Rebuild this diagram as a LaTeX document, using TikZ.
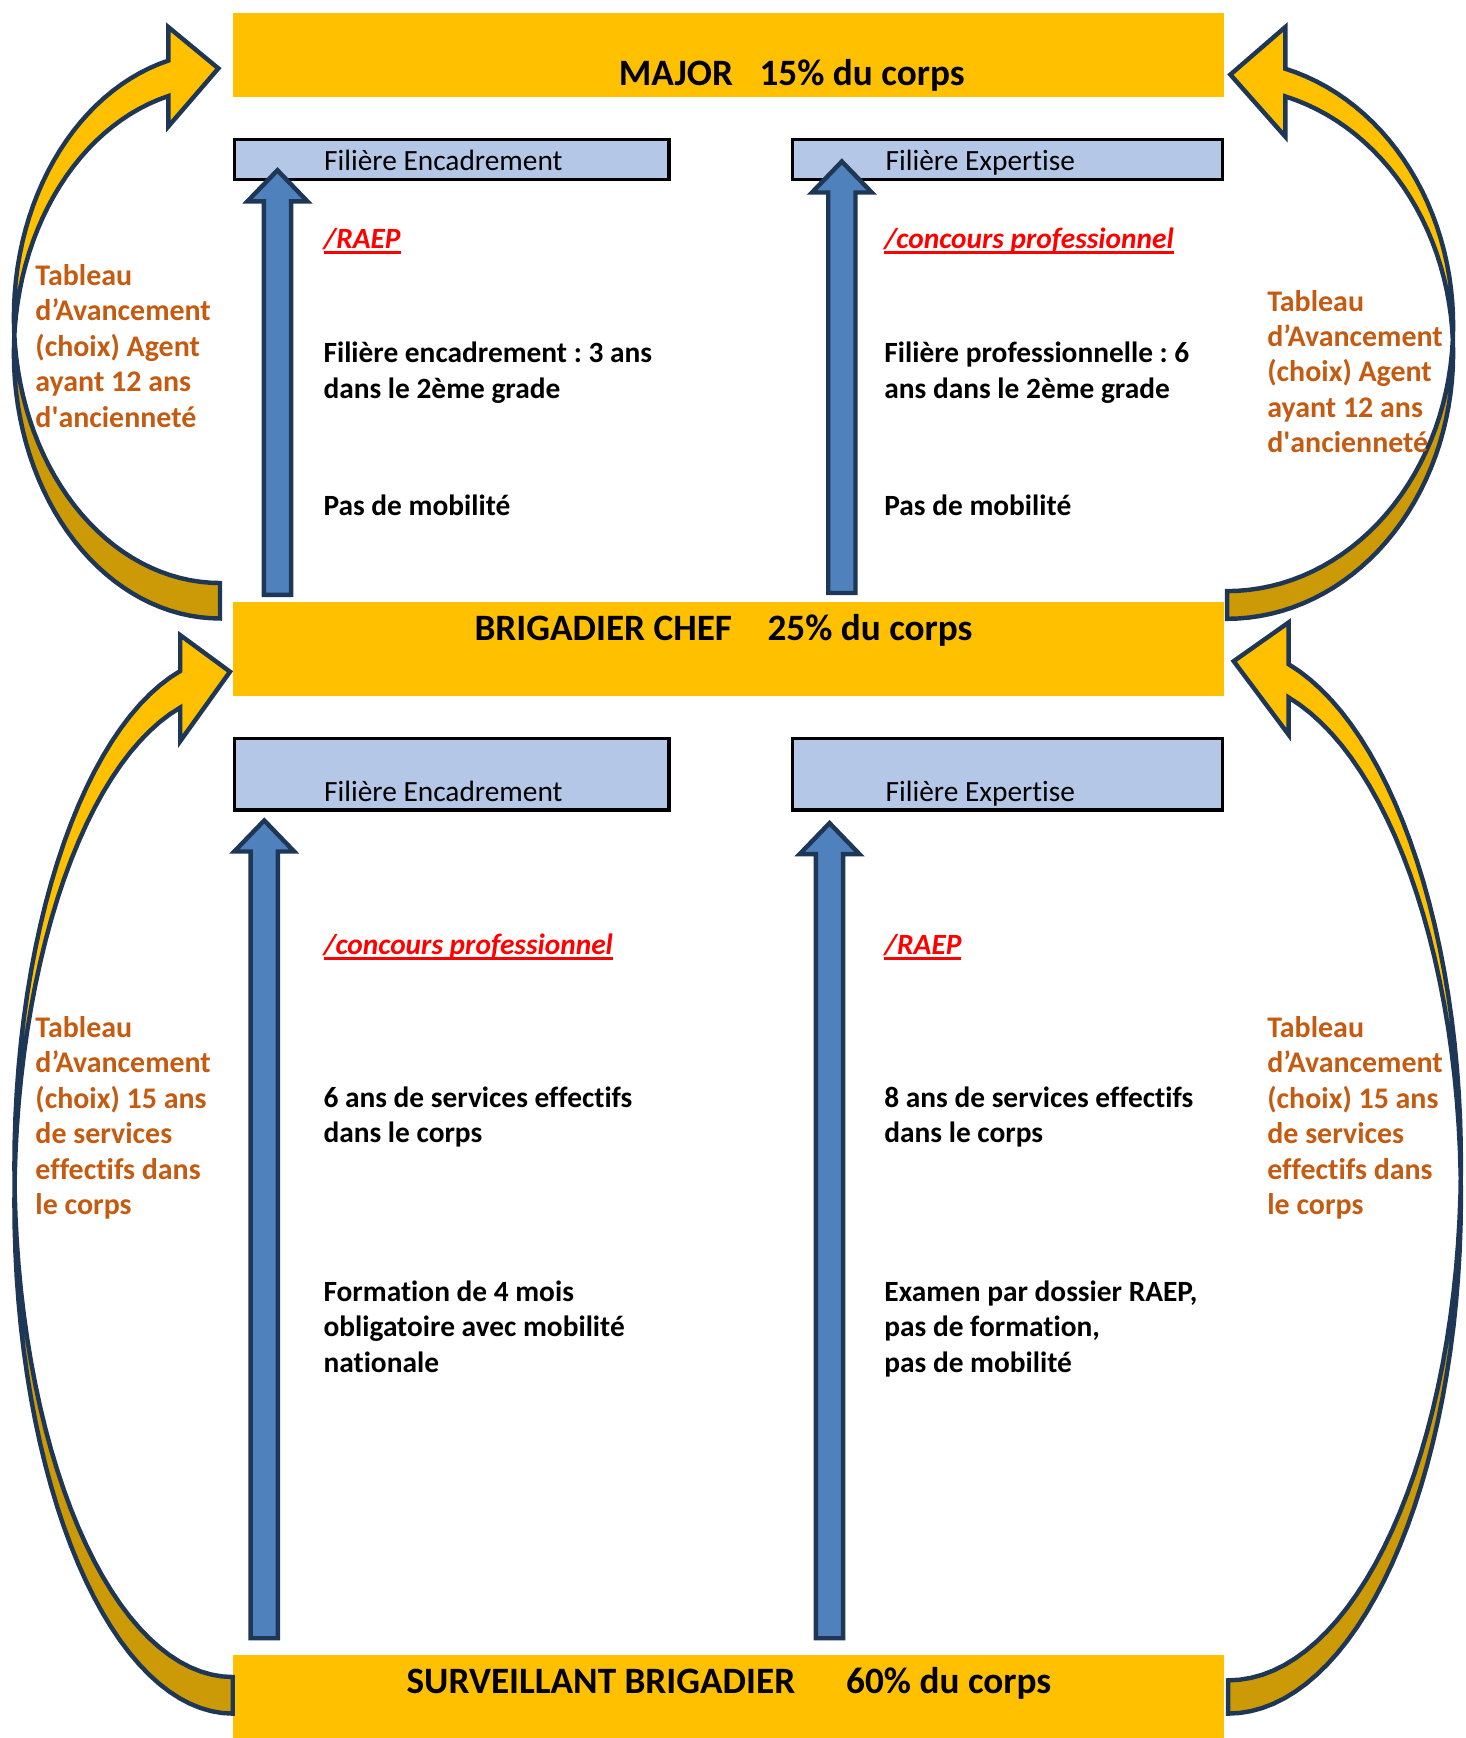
\documentclass[tikz,border=0pt]{standalone}
\usepackage{fontspec}
\setmainfont{Carlito}[Ligatures=NoCommon]
\usetikzlibrary{calc}
\definecolor{gold}{HTML}{FFC000}
\definecolor{backgold}{HTML}{CC9A06}
\definecolor{navy}{HTML}{1F3756}
\definecolor{steel}{HTML}{4F81BD}
\definecolor{paleblue}{HTML}{B4C7E7}
\definecolor{rust}{HTML}{C55A11}
\frenchspacing

% thick underline for the routes
\newcommand\redul[1]{\setbox0\hbox{#1}\rlap{\rule[-2.5pt]{\wd0}{1.1pt}}\box0}

% outline of a curved block arrow, read from the loop values
\newcommand\bendpath{(\cx,\cy+\ry)
  -- plot[domain=0:\uh,samples=60] ({\cx+(\sg)*\rx*sin(\x)},{\cy+\ry*cos(\x)})
  -- ++(0,-\bu) -- (\px,\py)
  -- ({\cx+(\sg)*\rx*sin(\uh)},{\cy+\tk+\ry*cos(\uh)+\bd})
  -- plot[domain=\uh:0,samples=60] ({\cx+(\sg)*\rx*sin(\x)},{\cy+\tk+\ry*cos(\x)})
  -- cycle}

% straight block arrow going up from tail to tip
\newcommand\blockup[2]{\draw[bluearrow] let \p1=(#1), \p2=(#2) in
  (\x1-6.15pt,\y1) -- (\x1-6.15pt,\y2-14pt) -- (\x1-13.5pt,\y2-14pt) -- (\x1,\y2)
  -- (\x1+13.5pt,\y2-14pt) -- (\x1+6.15pt,\y2-14pt) -- (\x1+6.15pt,\y1) -- cycle;}

\begin{document}
\begin{tikzpicture}[x=0.5pt,y=-0.5pt,
  bar/.style={fill=gold, inner sep=0pt, minimum width=447pt},
  filbox/.style={draw=black, line width=1.4pt, fill=paleblue, inner sep=0pt},
  bluearrow/.style={draw=navy, line width=2pt, fill=steel, line join=miter},
  bendline/.style={draw=navy, line width=2pt, line join=miter},
  bartext/.style={anchor=base west, inner sep=0pt, font=\fontsize{16.8}{19}\selectfont\bfseries},
  boxtext/.style={anchor=base west, inner sep=0pt, font=\fontsize{13.25}{16}\selectfont},
  body/.style={anchor=base west, inner sep=0pt, align=left, font=\fontsize{13.25}{16}\selectfont\bfseries},
  route/.style={body, text=red, font=\fontsize{13.25}{16}\selectfont\bfseries\itshape},
  note/.style={body, text=rust, font=\fontsize{13.5}{16}\selectfont\bfseries}]

\useasboundingbox (0,0) rectangle (1322,1568);

% grades
\node[bar, minimum height=37.8pt] (major) at (657.5,49.4) {};
\node[bar, minimum height=42.15pt] (chef) at (657.5,585.65) {};
\node[bar, minimum height=37.25pt] (surv) at (657.5,1530.75) {};
\node[bartext] (majortxt) at (558,77.3) {MAJOR\hspace{12pt}15\% du corps};
\node[bartext] (cheftxt) at (427.7,577.5) {BRIGADIER CHEF\hspace{16pt}25\% du corps};
\node[bartext] (survtxt) at (366.4,1527.5) {SURVEILLANT BRIGADIER\hspace{23pt}60\% du corps};

% filieres
\node[filbox, minimum width=196.1pt, minimum height=17.7pt] (encA) at (407.5,143.9) {};
\node[filbox, minimum width=193.7pt, minimum height=17.7pt] (expA) at (908.9,143.9) {};
\node[filbox, minimum width=196.1pt, minimum height=32.3pt] (encB) at (407.5,698.5) {};
\node[filbox, minimum width=193.7pt, minimum height=32.3pt] (expB) at (908.9,698.5) {};
\node[boxtext] (encAtxt) at (292,154) {Filière Encadrement};
\node[boxtext] (expAtxt) at (798.6,154) {Filière Expertise};
\node[boxtext] (encBtxt) at (292,723.4) {Filière Encadrement};
\node[boxtext] (expBtxt) at (798.6,723.4) {Filière Expertise};

% straight arrows
\coordinate (tA1) at (250.3,536.7); \coordinate (hA1) at (250.3,153.6);
\coordinate (tA2) at (759.5,535);   \coordinate (hA2) at (759.5,145.7);
\coordinate (tB1) at (238.4,1478);  \coordinate (hB1) at (238.4,740.2);
\coordinate (tB2) at (748.4,1478);  \coordinate (hB2) at (748.4,742.6);
\foreach \a in {A1,A2,B1,B2}
  \blockup{t\a}{h\a};

% curved arrows: side, centre, radii, width, head angle, barbs, tip
\foreach \sg/\cx/\cy/\rx/\ry/\tk/\uh/\bu/\bd/\px/\py in {
   -1/198.5/286.5/186/239.5/32/165.49/30.2/27.4/197/61.7,
    1/1107/293.6/204/239.7/25/165.06/37.6/36.3/1110/67.3,
   -1/210/1052.4/197/460.6/33/166.08/32.3/30.3/207.5/606,
    1/1108/1049.6/210/466.4/30/164.93/37.7/33.6/1113/596.5}
{
  \fill[backgold] \bendpath;
  \begin{scope}
    \clip (0,0) rectangle (1322,\cy+\tk/2);
    \fill[gold] \bendpath;
  \end{scope}
  \path[bendline] \bendpath;
}

% conditions, upper part (multi-line nodes sit on their last line)
\node[route] (raepA) at (291.5,224) {\redul{/RAEP}};
\node[body] (condA) at (291.5,359.3) {Filière encadrement : 3 ans\\dans le 2ème grade};
\node[body] (mobA) at (291.5,465) {Pas de mobilité};
\node[route] (concA) at (797.5,224) {\redul{/concours professionnel}};
\node[body] (condB) at (797.5,359.3) {Filière professionnelle : 6\\ans dans le 2ème grade};
\node[body] (mobB) at (797.5,465) {Pas de mobilité};

% conditions, lower part
\node[route] (concB) at (291.5,861) {\redul{/concours professionnel}};
\node[body] (servA) at (291.5,1031) {6 ans de services effectifs\\dans le corps};
\node[body] (formA) at (291.5,1238) {Formation de 4 mois\\obligatoire avec mobilité\\nationale};
\node[route] (raepB) at (797.5,861) {\redul{/RAEP}};
\node[body] (servB) at (797.5,1031) {8 ans de services effectifs\\dans le corps};
\node[body] (examB) at (797.5,1238) {Examen par dossier RAEP,\\pas de formation,\\pas de mobilité};

% tableau d'avancement
\node[note] (tabTL) at (31.6,385.4) {Tableau\\d’Avancement\\(choix) Agent\\ayant 12 ans\\d\textquotesingle ancienneté};
\node[note] (tabTR) at (1143,408.6) {Tableau\\d’Avancement\\(choix) Agent\\ayant 12 ans\\d\textquotesingle ancienneté};
\node[note] (tabBL) at (31.6,1096) {Tableau\\d’Avancement\\(choix) 15 ans\\de services\\effectifs dans\\le corps};
\node[note] (tabBR) at (1143,1096) {Tableau\\d’Avancement\\(choix) 15 ans\\de services\\effectifs dans\\le corps};
\end{tikzpicture}
\end{document}
